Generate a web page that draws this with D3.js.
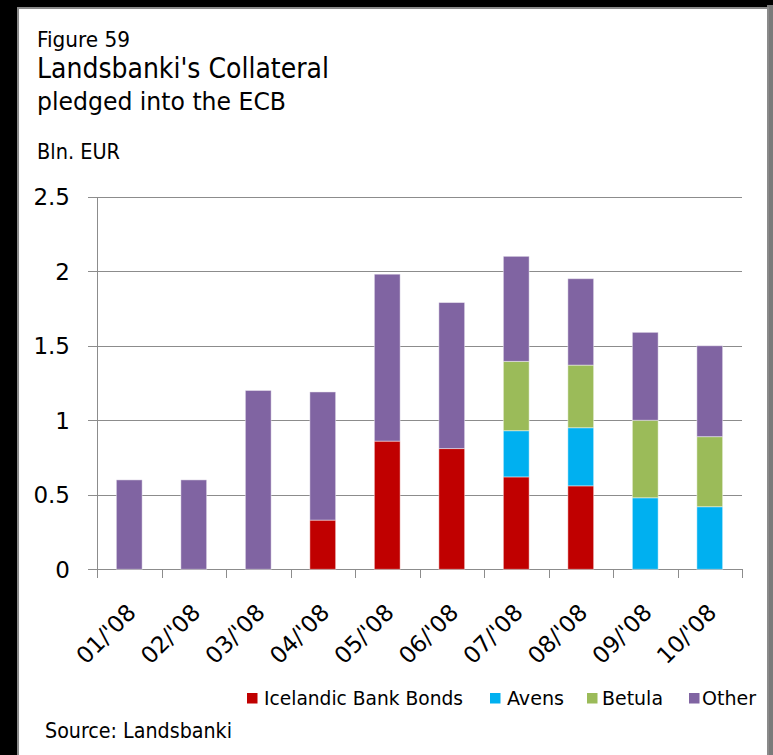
<!DOCTYPE html>
<html>
<head>
<meta charset="utf-8">
<script src="https://cdn.jsdelivr.net/npm/d3@7"></script>
<style>
  html, body { margin: 0; padding: 0; background: #000; }
  svg { display: block; }
</style>
</head>
<body>
<svg id="chart" width="773" height="755"></svg>
<script>
// ---- Data ----
const categories = ["01/'08", "02/'08", "03/'08", "04/'08", "05/'08", "06/'08", "07/'08", "08/'08", "09/'08", "10/'08"];
const seriesNames = ["Icelandic Bank Bonds", "Avens", "Betula", "Other"];
const icelandicBankBonds = [0, 0, 0, 0.33, 0.86, 0.81, 0.62, 0.56, 0, 0];
const avens              = [0, 0, 0, 0, 0, 0, 0.31, 0.39, 0.48, 0.42];
const betula             = [0, 0, 0, 0, 0, 0, 0.465, 0.42, 0.52, 0.47];
const other              = [0.6, 0.6, 1.2, 0.86, 1.12, 0.98, 0.705, 0.58, 0.59, 0.61];
const yTicks = [0, 0.5, 1, 1.5, 2, 2.5];
const colors = ["#C00000", "#00B0F0", "#9BBB59", "#8064A2"];

const rows = categories.map((c, i) => ({
  cat: c,
  "Icelandic Bank Bonds": icelandicBankBonds[i],
  "Avens": avens[i],
  "Betula": betula[i],
  "Other": other[i]
}));

const svg = d3.select("#chart");
const titleFont = "'DejaVu Sans Condensed', 'DejaVu Sans', sans-serif";
const axisFont = "'DejaVu Sans', sans-serif";

// Panel
svg.append("rect").attr("x", 0).attr("y", 0).attr("width", 773).attr("height", 755).attr("fill", "#000");
svg.append("rect").attr("x", 767).attr("y", 5).attr("width", 6).attr("height", 750).attr("fill", "#7a7a7a");
svg.append("rect").attr("x", 18).attr("y", 8).attr("width", 750).attr("height", 760)
  .attr("fill", "#fff").attr("stroke", "#8a8a8a").attr("stroke-width", 2);

// Titles (font size from cap height, width squeezed to the reference width)
const titles = [
  { t: "Figure 59", x: 37, y: 47, w: 93, fs: 20.5 },
  { t: "Landsbanki's Collateral", x: 37, y: 78, w: 292, fs: 29 },
  { t: "pledged into the ECB", x: 37, y: 110, w: 249, fs: 25 },
  { t: "Bln. EUR", x: 37, y: 159, w: 83, fs: 21 },
  { t: "Source: Landsbanki", x: 45, y: 738, w: 187, fs: 20.5 }
];
titles.forEach(d => {
  svg.append("text").attr("x", d.x).attr("y", d.y)
    .attr("font-family", titleFont).attr("font-size", d.fs).attr("fill", "#000")
    .attr("textLength", d.w).attr("lengthAdjust", "spacingAndGlyphs")
    .text(d.t);
});

// Scales
const x = d3.scaleBand().domain(categories).range([97, 742]).paddingInner(0.6).paddingOuter(0.3);
const y = d3.scaleLinear().domain([0, 2.5]).range([569.3, 196.7]);

// Gridlines + y tick marks
svg.append("g").selectAll("line").data(yTicks).join("line")
  .attr("x1", 88).attr("x2", 742)
  .attr("y1", d => Math.round(y(d)) + 0.5).attr("y2", d => Math.round(y(d)) + 0.5)
  .attr("stroke", "#8c8c8c").attr("stroke-width", 1);

// y axis line
svg.append("line").attr("x1", 97.5).attr("x2", 97.5)
  .attr("y1", Math.round(y(2.5)) + 0.5).attr("y2", Math.round(y(0)) + 9)
  .attr("stroke", "#8c8c8c");

// x ticks at category boundaries
const bx = d3.range(categories.length + 1).map(i => x.range()[0] + i * x.step());
svg.append("g").selectAll("line").data(bx).join("line")
  .attr("x1", d => Math.round(d) + 0.5).attr("x2", d => Math.round(d) + 0.5)
  .attr("y1", Math.round(y(0))).attr("y2", Math.round(y(0)) + 9)
  .attr("stroke", "#8c8c8c");

// y tick labels
svg.append("g").selectAll("text").data(yTicks).join("text")
  .attr("x", 70).attr("y", d => y(d))
  .attr("dy", "0.36em")
  .attr("text-anchor", "end")
  .attr("font-family", axisFont).attr("font-size", 23).attr("fill", "#000")
  .text(d => d3.format("")(d));

// Bars
const stack = d3.stack().keys(seriesNames)(rows);
const layers = svg.append("g").selectAll("g").data(stack).join("g")
  .attr("fill", (d, i) => colors[i]);
layers.selectAll("rect").data(d => d.filter(s => s[1] - s[0] > 0)).join("rect")
  .attr("x", d => x(d.data.cat))
  .attr("width", x.bandwidth())
  .attr("y", d => y(d[1]))
  .attr("height", d => y(d[0]) - y(d[1]))
  .attr("stroke", "#ffffff").attr("stroke-opacity", 0.45).attr("stroke-width", 1);

// x labels (rotated)
svg.append("g").selectAll("text").data(categories).join("text")
  .attr("transform", d => `translate(${x(d) + x.bandwidth() / 2 + 8},614) rotate(-45)`)
  .attr("text-anchor", "end")
  .attr("font-family", axisFont).attr("font-size", 23).attr("fill", "#000")
  .text(d => d);

// Legend
const legendPos = [
  { sx: 247, tx: 264, w: 199 },
  { sx: 490, tx: 507, w: 57 },
  { sx: 587, tx: 602, w: 61 },
  { sx: 689, tx: 702, w: 54 }
];
seriesNames.forEach((n, i) => {
  const p = legendPos[i];
  svg.append("rect").attr("x", p.sx).attr("y", 693).attr("width", 10.5).attr("height", 10.5).attr("fill", colors[i]);
  svg.append("text").attr("x", p.tx).attr("y", 705)
    .attr("font-family", titleFont).attr("font-size", 19).attr("fill", "#000")
    .attr("textLength", p.w).attr("lengthAdjust", "spacingAndGlyphs")
    .text(n);
});
</script>
</body>
</html>
